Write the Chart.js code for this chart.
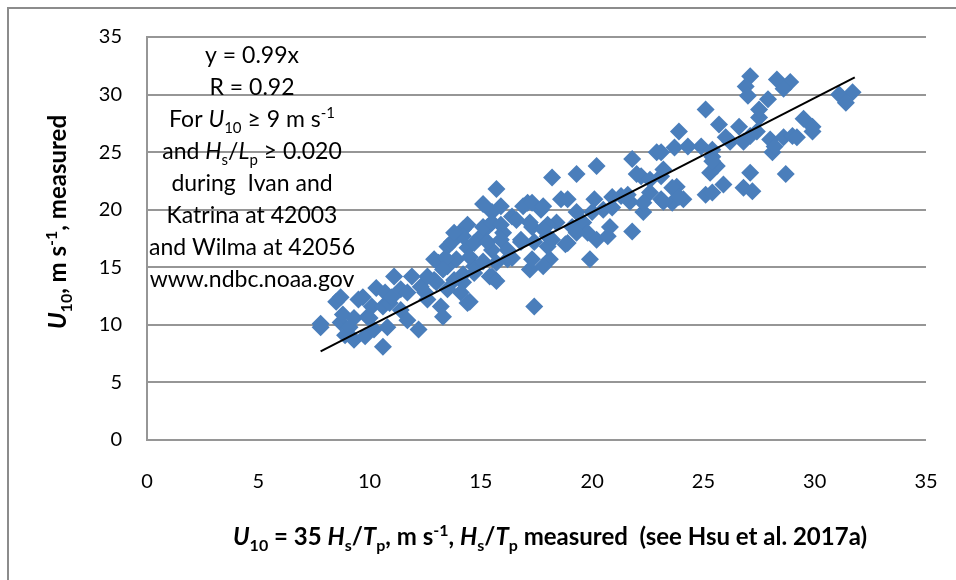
<!DOCTYPE html>
<html>
<head>
<meta charset="utf-8">
<script src="https://cdn.jsdelivr.net/npm/chart.js@4/dist/chart.umd.min.js"></script>
<style>
  html, body { margin: 0; padding: 0; background: #fff; }
  #wrap { width: 956px; height: 580px; position: relative; }
</style>
</head>
<body>
<div id="wrap"><canvas id="chart" width="956" height="580"></canvas></div>
<script>
// U10 from 35 Hs/Tp (x) vs U10 measured (y)
const measuredX = [
  7.8, 7.8, 8.5, 8.7, 8.7, 8.9, 8.8, 9.1, 9.3, 9.3, 9.5, 9.7, 9.9, 10.0, 10.1, 9.8, 10.2, 10.3, 10.6, 10.6,
  10.7, 10.8, 10.9, 11.1, 11.0, 11.4, 11.4, 11.7, 11.7, 11.9, 12.2, 12.3, 12.6, 12.9, 12.9, 13.0, 13.1, 13.2, 13.3, 13.5,
  13.5, 13.7, 13.9, 14.2, 14.4, 14.4, 14.2, 14.7, 15.1, 15.0, 15.3, 15.7, 15.9, 15.5, 15.5, 16.0, 16.2, 16.4, 16.8, 17.1,
  17.3, 17.2, 17.4, 17.7, 18.0, 18.2, 18.6, 18.1, 18.4, 18.9, 19.3, 19.1, 19.6, 19.8, 19.9, 20.2, 20.1, 20.5, 20.9, 20.8,
  15.5, 16.9, 17.3, 17.8, 14.4, 15.1, 15.5, 15.9, 16.6, 17.2, 18.0, 14.2, 14.7, 15.3, 15.9, 16.2, 16.8, 17.4, 18.0, 13.4,
  14.5, 15.1, 15.7, 16.4, 17.3, 17.8, 12.6, 13.3, 13.8, 14.2, 14.7, 15.4, 15.7, 12.5, 13.5, 14.1, 14.5, 18.9, 21.8, 22.9,
  23.7, 22.2, 23.1, 23.8, 21.3, 21.7, 22.6, 19.3, 20.0, 20.9, 22.3, 23.1, 23.6, 17.8, 19.3, 20.2, 21.8, 18.8, 18.2, 20.7,
  27.1, 26.9, 27.0, 28.3, 28.9, 28.6, 27.9, 31.1, 31.7, 31.4, 25.1, 25.7, 23.9, 26.6, 27.5, 27.4, 26.2, 26.8, 24.9, 24.3,
  28.0, 28.6, 29.0, 29.5, 29.9, 29.9, 28.1, 25.4, 25.6, 25.3, 25.9, 25.1, 25.4, 27.1, 26.8, 27.2, 28.7, 23.6, 24.1, 23.2,
  22.0, 22.6, 21.6, 22.3, 27.1, 26.0, 25.4, 25.4, 28.2, 23.1, 23.9, 23.2, 29.2, 27.5, 13.8
];
const measuredY = [
  9.8, 10.1, 12.0, 12.4, 10.2, 9.1, 10.9, 9.8, 10.6, 8.7, 12.2, 12.4, 10.7, 10.6, 11.6, 9.0, 9.6, 13.2, 8.1, 11.6,
  12.8, 9.8, 11.9, 14.2, 12.4, 13.1, 11.3, 10.4, 12.8, 14.2, 9.6, 13.3, 12.2, 13.9, 15.7, 13.7, 15.4, 11.6, 10.7, 16.8,
  15.1, 17.2, 15.7, 18.3, 16.7, 11.9, 13.7, 15.1, 20.5, 17.7, 18.5, 21.8, 20.3, 16.5, 14.2, 18.0, 15.7, 19.4, 17.4, 20.6,
  18.5, 14.8, 11.6, 20.0, 17.7, 22.8, 20.9, 15.7, 18.9, 17.1, 23.1, 18.5, 18.9, 18.0, 15.7, 23.8, 20.9, 20.0, 21.1, 18.5,
  19.8, 20.3, 20.6, 20.3, 18.7, 18.5, 18.9, 18.7, 19.1, 18.9, 18.7, 17.7, 17.1, 17.2, 17.4, 16.5, 17.2, 17.2, 16.8, 15.8,
  15.9, 15.5, 15.4, 15.8, 15.7, 15.1, 14.2, 14.8, 13.9, 14.4, 14.5, 14.2, 13.8, 12.8, 13.1, 12.8, 12.0, 20.9, 24.4, 25.0,
  25.4, 22.9, 22.9, 22.0, 21.2, 20.7, 21.5, 19.8, 19.8, 20.2, 19.8, 20.9, 20.6, 18.3, 18.0, 17.4, 18.1, 17.0, 17.4, 17.7,
  31.6, 30.7, 29.9, 31.3, 31.1, 30.5, 29.6, 30.0, 30.2, 29.3, 28.7, 27.4, 26.8, 27.2, 28.0, 26.8, 25.9, 25.9, 25.5, 25.5,
  26.1, 26.3, 26.4, 27.9, 27.2, 26.8, 25.0, 24.6, 23.8, 23.2, 22.2, 21.3, 21.5, 23.2, 21.9, 21.6, 23.1, 21.9, 20.9, 23.5,
  23.1, 22.6, 21.3, 20.6, 26.4, 26.3, 25.2, 24.2, 25.5, 25.0, 21.1, 20.7, 26.3, 28.7, 18.0
];

// fitted line y = 0.99x, end points as drawn
const trendX = [7.8, 31.8];
const trendY = [7.7, 31.5];

const tickValues = [0, 5, 10, 15, 20, 25, 30, 35];

// text inside the plot; [text, style] with style '', 'i', 'sub', 'sup'
const noteLines = [
  [['y = 0.99x', '']],
  [['R = 0.92', '']],
  [['For ', ''], ['U', 'i'], ['10', 'sub'], [' \u2265 9 m s', ''], ['-1', 'sup']],
  [['and ', ''], ['H', 'i'], ['s', 'sub'], ['/', ''], ['L', 'i'], ['p', 'sub'], [' \u2265 0.020', '']],
  [['during  Ivan and', '']],
  [['Katrina at 42003', '']],
  [['and Wilma at 42056', '']],
  [['www.ndbc.noaa.gov', '']]
];
const xTitle = [['U', 'i'], ['10', 'sub'], [' = 35 ', ''], ['H', 'i'], ['s', 'sub'], ['/', ''], ['T', 'i'], ['p', 'sub'],
  [', m s', ''], ['-1', 'sup'], [', ', ''], ['H', 'i'], ['s', 'sub'], ['/', ''], ['T', 'i'], ['p', 'sub'],
  [' measured  (see Hsu et al. 2017a)', '']];
const yTitle = [['U', 'i'], ['10', 'sub'], [', m s', ''], ['-1', 'sup'], [', measured', '']];

const FONT = 'Lato, "Open Sans", sans-serif';

function drawRich(ctx, segs, cx, baseline, size, bold) {
  const fontOf = (st) => {
    const s = (st === 'sub' || st === 'sup') ? Math.round(size * 0.65) : size;
    return (st === 'i' ? 'italic ' : '') + (bold ? 'bold ' : '') + s + 'px ' + FONT;
  };
  let total = 0;
  segs.forEach(([t, st]) => { ctx.font = fontOf(st); total += ctx.measureText(t).width; });
  let x = cx - total / 2;
  ctx.textAlign = 'left';
  ctx.textBaseline = 'alphabetic';
  segs.forEach(([t, st]) => {
    ctx.font = fontOf(st);
    let dy = 0;
    if (st === 'sub') dy = size * 0.25;
    if (st === 'sup') dy = -size * 0.38;
    ctx.fillText(t, x, baseline + dy);
    x += ctx.measureText(t).width;
  });
}

const textPlugin = {
  id: 'textPlugin',
  beforeDraw(chart) {
    const ctx = chart.ctx;
    ctx.save();
    ctx.strokeStyle = '#8c8c8c';
    ctx.lineWidth = 2;
    ctx.beginPath();
    ctx.moveTo(8, 580);
    ctx.lineTo(8, 8);
    ctx.lineTo(956, 8);
    ctx.stroke();
    ctx.restore();
  },
  afterDraw(chart) {
    const ctx = chart.ctx;
    ctx.save();
    ctx.fillStyle = '#000';
    noteLines.forEach((segs, i) => drawRich(ctx, segs, 252, 63 + i * 32, 23, false));
    drawRich(ctx, xTitle, 550, 545, 24, true);
    ctx.translate(66, 222);
    ctx.rotate(-Math.PI / 2);
    drawRich(ctx, yTitle, 0, 0, 24, true);
    ctx.restore();
  }
};

const gridColor = '#969696';

new Chart(document.getElementById('chart'), {
  type: 'scatter',
  data: {
    datasets: [
      {
        type: 'line',
        data: trendX.map((x, i) => ({ x, y: trendY[i] })),
        borderColor: '#000',
        borderWidth: 2,
        pointRadius: 0,
        fill: false,
        order: 0
      },
      {
        data: measuredX.map((x, i) => ({ x, y: measuredY[i] })),
        pointStyle: 'rectRot',
        pointRadius: 9,
        backgroundColor: '#4A7EBB',
        borderWidth: 0,
        order: 1
      }
    ]
  },
  options: {
    responsive: false,
    devicePixelRatio: 1,
    animation: false,
    layout: { padding: { left: 0, top: 37, right: 30, bottom: 0 } },
    plugins: { legend: { display: false }, tooltip: { enabled: false } },
    scales: {
      x: {
        type: 'linear',
        min: 0, max: 35,
        afterBuildTicks: (s) => { s.ticks = tickValues.map(v => ({ value: v })); },
        afterFit: (s) => { s.height = 140; s.paddingLeft = 0; s.paddingRight = 12; },
        grid: { display: false, drawTicks: false },
        border: { display: false },
        ticks: { color: '#000', padding: 30, font: { family: FONT, size: 20 }, maxRotation: 0 }
      },
      y: {
        type: 'linear',
        min: 0, max: 35,
        afterBuildTicks: (s) => { s.ticks = tickValues.map(v => ({ value: v })); },
        afterFit: (s) => { s.width = 147; },
        grid: { color: gridColor, lineWidth: 2, drawTicks: false },
        border: { display: true, color: gridColor, width: 2 },
        ticks: { color: '#000', padding: 25, font: { family: FONT, size: 20 } }
      }
    }
  },
  plugins: [textPlugin]
});
</script>
</body>
</html>
